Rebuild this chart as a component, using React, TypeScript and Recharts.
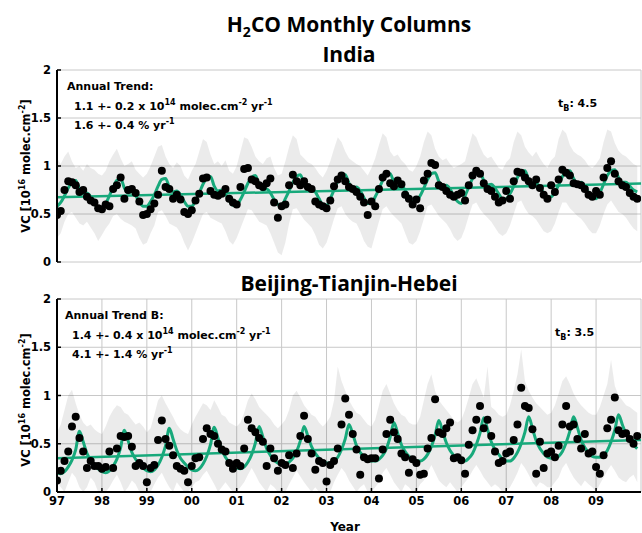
import { ComposedChart, Line, Area, XAxis, YAxis, CartesianGrid } from 'recharts'

const GREEN = '#17a97b'
const TEXT_FONT = '"DejaVu Sans", sans-serif'
const TITLE_FONT = '"Open Sans", sans-serif'

// years on the x axis and their short labels
const YEARS = [1997, 1998, 1999, 2000, 2001, 2002, 2003, 2004, 2005, 2006, 2007, 2008, 2009]
const YEAR_LABELS = ['97', '98', '99', '00', '01', '02', '03', '04', '05', '06', '07', '08', '09']
const Y_TICKS = [0, 0.5, 1, 1.5, 2]
const TREND_YEARS = [1997, 2010]

// India, monthly values Jan..Dec per row (1997..2009)
const INDIA_VC = [
  0.49, 0.53, 0.75, 0.84, 0.83, 0.80, 0.73, 0.75, 0.68, 0.64, 0.62, 0.56,
  0.55, 0.60, 0.58, 0.76, 0.80, 0.88, 0.66, 0.75, 0.76, 0.72, 0.63, 0.49,
  0.50, 0.55, 0.61, 0.70, 0.95, 0.78, 0.76, 0.66, 0.70, 0.65, 0.52, 0.50,
  0.54, 0.64, 0.71, 0.87, 0.88, 0.74, 0.70, 0.69, 0.71, 0.76, 0.66, 0.62,
  0.60, 0.78, 0.97, 0.98, 0.86, 0.84, 0.80, 0.78, 0.82, 0.87, 0.62, 0.46,
  0.58, 0.60, 0.80, 0.91, 0.84, 0.80, 0.84, 0.78, 0.76, 0.63, 0.60, 0.58,
  0.56, 0.64, 0.79, 0.86, 0.90, 0.84, 0.78, 0.76, 0.73, 0.68, 0.62, 0.49,
  0.63, 0.58, 0.76, 0.88, 0.92, 0.82, 0.79, 0.85, 0.81, 0.70, 0.66, 0.60,
  0.65, 0.56, 0.85, 0.92, 1.03, 1.01, 0.80, 0.78, 0.74, 0.70, 0.68, 0.70,
  0.72, 0.64, 0.80, 0.90, 0.95, 0.92, 0.82, 0.76, 0.74, 0.68, 0.62, 0.64,
  0.74, 0.66, 0.84, 0.94, 0.93, 0.88, 0.84, 0.80, 0.86, 0.77, 0.70, 0.66,
  0.80, 0.73, 0.86, 0.96, 0.93, 0.90, 0.82, 0.81, 0.80, 0.76, 0.70, 0.68,
  0.74, 0.70, 0.88, 0.98, 1.05, 0.92, 0.84, 0.80, 0.78, 0.72, 0.68, 0.66,
]
const INDIA_MIN = [
  0.25, 0.30, 0.42, 0.50, 0.52, 0.46, 0.40, 0.38, 0.42, 0.36, 0.30, 0.22,
  0.28, 0.35, 0.40, 0.48, 0.50, 0.45, 0.42, 0.40, 0.38, 0.35, 0.25, 0.18,
  0.20, 0.30, 0.38, 0.52, 0.54, 0.48, 0.40, 0.38, 0.36, 0.30, 0.20, 0.12,
  0.20, 0.30, 0.40, 0.50, 0.52, 0.46, 0.44, 0.42, 0.40, 0.32, 0.22, 0.18,
  0.25, 0.35, 0.45, 0.55, 0.54, 0.48, 0.42, 0.40, 0.38, 0.30, 0.20, 0.10,
  0.07, 0.20, 0.40, 0.55, 0.56, 0.50, 0.44, 0.40, 0.36, 0.28, 0.18, 0.14,
  0.20, 0.32, 0.45, 0.56, 0.58, 0.50, 0.45, 0.42, 0.40, 0.32, 0.22, 0.16,
  0.14, 0.28, 0.42, 0.55, 0.58, 0.52, 0.48, 0.44, 0.40, 0.30, 0.20, 0.18,
  0.22, 0.32, 0.45, 0.58, 0.60, 0.54, 0.48, 0.44, 0.40, 0.34, 0.26, 0.22,
  0.25, 0.35, 0.48, 0.60, 0.62, 0.55, 0.50, 0.46, 0.42, 0.36, 0.30, 0.27,
  0.30, 0.38, 0.50, 0.62, 0.64, 0.56, 0.50, 0.48, 0.44, 0.38, 0.32, 0.30,
  0.32, 0.40, 0.52, 0.62, 0.62, 0.56, 0.52, 0.48, 0.45, 0.40, 0.34, 0.30,
  0.30, 0.38, 0.50, 0.60, 0.64, 0.58, 0.52, 0.50, 0.46, 0.40, 0.35, 0.32,
]
const INDIA_MAX = [
  1.08, 1.02, 1.10, 1.15, 1.05, 0.98, 1.00, 0.95, 1.02, 0.98, 0.96, 0.92,
  0.90, 0.95, 1.05, 1.12, 1.18, 1.08, 1.00, 1.02, 1.05, 0.96, 0.92, 0.88,
  0.92, 1.00, 1.10, 1.20, 1.22, 1.10, 1.02, 0.98, 1.04, 1.00, 0.90, 0.86,
  0.95, 1.02, 1.15, 1.28, 1.25, 1.12, 1.02, 1.05, 1.00, 1.06, 0.95, 0.92,
  1.00, 1.15, 1.30, 1.28, 1.20, 1.10, 1.05, 1.02, 1.08, 1.10, 0.98, 0.90,
  0.92, 1.05, 1.20, 1.32, 1.28, 1.12, 1.08, 1.04, 1.02, 0.98, 0.92, 0.88,
  0.95, 1.05, 1.18, 1.30, 1.25, 1.15, 1.08, 1.05, 1.02, 1.00, 0.95, 0.90,
  0.98, 1.08, 1.22, 1.34, 1.30, 1.15, 1.10, 1.12, 1.06, 1.02, 0.96, 0.94,
  1.00, 1.10, 1.25, 1.36, 1.32, 1.18, 1.10, 1.06, 1.08, 1.02, 0.98, 1.00,
  1.02, 1.05, 1.20, 1.34, 1.30, 1.20, 1.12, 1.08, 1.10, 1.04, 0.98, 0.96,
  1.04, 1.08, 1.25, 1.36, 1.32, 1.20, 1.14, 1.10, 1.15, 1.08, 1.02, 0.98,
  1.06, 1.10, 1.28, 1.38, 1.34, 1.22, 1.15, 1.12, 1.10, 1.06, 1.00, 0.98,
  1.02, 1.08, 1.25, 1.38, 1.36, 1.24, 1.16, 1.12, 1.10, 1.06, 1.02, 1.00,
]
const INDIA_FIT = [
  0.58, 0.62, 0.69, 0.77, 0.83, 0.85, 0.76, 0.71, 0.72, 0.68, 0.61, 0.56,
  0.55, 0.61, 0.69, 0.78, 0.85, 0.87, 0.77, 0.72, 0.73, 0.69, 0.63, 0.58,
  0.58, 0.63, 0.70, 0.79, 0.86, 0.87, 0.78, 0.73, 0.74, 0.70, 0.63, 0.58,
  0.58, 0.64, 0.72, 0.81, 0.87, 0.89, 0.79, 0.74, 0.75, 0.71, 0.64, 0.59,
  0.59, 0.65, 0.73, 0.82, 0.88, 0.90, 0.80, 0.75, 0.76, 0.72, 0.65, 0.60,
  0.59, 0.66, 0.74, 0.83, 0.89, 0.91, 0.81, 0.76, 0.77, 0.73, 0.66, 0.60,
  0.59, 0.66, 0.75, 0.84, 0.89, 0.91, 0.82, 0.77, 0.78, 0.74, 0.67, 0.61,
  0.61, 0.68, 0.76, 0.85, 0.91, 0.92, 0.83, 0.78, 0.79, 0.75, 0.68, 0.63,
  0.63, 0.69, 0.77, 0.86, 0.92, 0.93, 0.84, 0.79, 0.80, 0.76, 0.69, 0.63,
  0.61, 0.69, 0.78, 0.87, 0.92, 0.93, 0.85, 0.80, 0.81, 0.77, 0.71, 0.66,
  0.66, 0.71, 0.79, 0.88, 0.94, 0.95, 0.86, 0.81, 0.82, 0.78, 0.72, 0.68,
  0.68, 0.73, 0.80, 0.89, 0.94, 0.95, 0.87, 0.82, 0.83, 0.79, 0.72, 0.67,
  0.66, 0.72, 0.81, 0.90, 0.95, 0.96, 0.88, 0.83, 0.83, 0.79, 0.75, 0.73,
]
const INDIA_TREND = [0.674, 0.817]

// Beijing-Tianjin-Hebei, monthly values Jan..Dec per row (1997..2009)
const BTH_VC = [
  0.12, 0.22, 0.32, 0.42, 0.68, 0.78, 0.56, 0.42, 0.25, 0.32, 0.27, 0.27,
  0.24, 0.26, 0.42, 0.25, 0.45, 0.58, 0.57, 0.58, 0.47, 0.27, 0.30, 0.27,
  0.10, 0.25, 0.28, 0.54, 0.74, 0.55, 0.48, 0.38, 0.27, 0.24, 0.22, 0.10,
  0.27, 0.35, 0.36, 0.55, 0.66, 0.60, 0.58, 0.50, 0.44, 0.42, 0.30, 0.24,
  0.30, 0.27, 0.45, 0.75, 0.66, 0.62, 0.56, 0.52, 0.27, 0.45, 0.35, 0.22,
  0.30, 0.28, 0.38, 0.25, 0.40, 0.58, 0.79, 0.55, 0.40, 0.23, 0.32, 0.30,
  0.11, 0.28, 0.32, 0.45, 0.70, 0.97, 0.80, 0.60, 0.44, 0.18, 0.36, 0.34,
  0.35, 0.35, 0.14, 0.44, 0.60, 0.75, 0.62, 0.55, 0.40, 0.36, 0.20, 0.34,
  0.30, 0.18, 0.19, 0.45, 0.56, 0.96, 0.62, 0.60, 0.66, 0.72, 0.35, 0.36,
  0.33, 0.19, 0.49, 0.64, 0.75, 0.89, 0.66, 0.75, 0.58, 0.42, 0.30, 0.32,
  0.40, 0.42, 0.54, 0.70, 1.08, 0.89, 0.87, 0.65, 0.19, 0.52, 0.25, 0.40,
  0.42, 0.36, 0.48, 0.70, 0.89, 0.68, 0.70, 0.55, 0.45, 0.60, 0.40, 0.42,
  0.26, 0.19, 0.38, 0.66, 0.75, 0.98, 0.64, 0.60, 0.61, 0.55, 0.50, 0.58,
]
const BTH_MIN = [
  0.10, 0.05, 0.00, 0.10, 0.20, 0.15, 0.05, 0.00, 0.05, 0.15, 0.10, 0.00,
  0.00, 0.00, 0.05, 0.12, 0.18, 0.10, 0.00, 0.05, 0.12, 0.08, 0.00, 0.00,
  0.00, 0.00, 0.08, 0.15, 0.20, 0.12, 0.05, 0.00, 0.10, 0.05, 0.00, 0.00,
  0.05, 0.10, 0.12, 0.18, 0.22, 0.15, 0.08, 0.00, 0.05, 0.10, 0.05, 0.00,
  0.00, 0.05, 0.10, 0.18, 0.25, 0.18, 0.10, 0.05, 0.00, 0.08, 0.05, 0.00,
  0.00, 0.00, 0.08, 0.15, 0.22, 0.16, 0.10, 0.05, 0.00, 0.05, 0.00, 0.00,
  0.05, 0.00, 0.10, 0.18, 0.25, 0.20, 0.12, 0.06, 0.00, 0.05, 0.08, 0.00,
  0.00, 0.05, 0.10, 0.20, 0.25, 0.18, 0.10, 0.05, 0.00, 0.08, 0.05, 0.00,
  0.00, 0.08, 0.12, 0.20, 0.28, 0.20, 0.12, 0.08, 0.05, 0.10, 0.05, 0.00,
  0.05, 0.10, 0.15, 0.22, 0.28, 0.22, 0.15, 0.10, 0.05, 0.08, 0.05, 0.00,
  0.00, 0.05, 0.12, 0.20, 0.30, 0.25, 0.18, 0.10, 0.05, 0.10, 0.08, 0.05,
  0.05, 0.10, 0.15, 0.25, 0.30, 0.22, 0.15, 0.10, 0.06, 0.12, 0.08, 0.05,
  0.00, 0.08, 0.15, 0.22, 0.28, 0.22, 0.15, 0.12, 0.10, 0.15, 0.18, 0.10,
]
const BTH_MAX = [
  0.62, 0.70, 0.85, 1.00, 1.06, 0.92, 0.80, 0.72, 0.68, 0.70, 0.65, 0.62,
  0.60, 0.68, 0.78, 0.85, 0.90, 0.88, 0.82, 0.80, 0.75, 0.70, 0.72, 0.68,
  0.62, 0.66, 0.80, 0.95, 1.00, 0.92, 0.85, 0.78, 0.70, 0.65, 0.62, 0.60,
  0.70, 0.78, 0.85, 0.92, 0.90, 0.85, 0.95, 0.88, 0.80, 0.78, 0.72, 0.70,
  0.68, 0.72, 0.82, 0.95, 1.02, 0.96, 0.88, 0.84, 0.80, 0.76, 0.70, 0.66,
  0.70, 0.75, 0.85, 1.00, 1.05, 0.98, 0.90, 0.85, 0.80, 0.78, 0.72, 0.68,
  0.72, 0.78, 0.95, 1.30, 1.15, 1.05, 0.95, 0.88, 0.82, 0.80, 0.75, 0.70,
  0.68, 0.75, 0.90, 1.05, 1.12, 1.02, 0.92, 0.85, 0.80, 0.78, 0.72, 0.70,
  0.70, 0.78, 0.95, 1.12, 1.22, 1.05, 0.95, 0.90, 0.85, 0.80, 0.75, 0.72,
  0.75, 0.85, 0.98, 1.12, 1.18, 1.08, 0.98, 1.30, 0.88, 0.85, 0.80, 0.78,
  0.80, 0.90, 1.05, 1.22, 1.48, 1.15, 1.05, 0.98, 0.92, 0.88, 0.84, 0.80,
  0.82, 0.90, 1.02, 1.15, 1.20, 1.12, 1.02, 0.95, 0.90, 0.86, 0.82, 0.80,
  0.80, 0.88, 1.00, 1.12, 1.37, 1.10, 1.00, 0.95, 0.90, 0.88, 0.85, 0.82,
]
const BTH_FIT = [
  0.20, 0.19, 0.21, 0.26, 0.33, 0.44, 0.63, 0.52, 0.40, 0.33, 0.28, 0.24,
  0.21, 0.20, 0.22, 0.27, 0.34, 0.46, 0.64, 0.53, 0.41, 0.34, 0.29, 0.25,
  0.22, 0.21, 0.23, 0.28, 0.36, 0.48, 0.66, 0.55, 0.43, 0.35, 0.30, 0.26,
  0.23, 0.22, 0.24, 0.29, 0.37, 0.49, 0.67, 0.56, 0.44, 0.36, 0.31, 0.27,
  0.25, 0.24, 0.26, 0.31, 0.39, 0.51, 0.68, 0.57, 0.45, 0.38, 0.33, 0.30,
  0.29, 0.29, 0.31, 0.35, 0.42, 0.53, 0.68, 0.58, 0.47, 0.40, 0.35, 0.31,
  0.30, 0.30, 0.32, 0.36, 0.44, 0.55, 0.70, 0.60, 0.48, 0.41, 0.36, 0.33,
  0.32, 0.32, 0.34, 0.38, 0.45, 0.57, 0.72, 0.61, 0.49, 0.42, 0.37, 0.34,
  0.32, 0.32, 0.34, 0.39, 0.47, 0.59, 0.74, 0.63, 0.51, 0.43, 0.38, 0.34,
  0.32, 0.32, 0.35, 0.40, 0.49, 0.61, 0.77, 0.65, 0.52, 0.44, 0.39, 0.34,
  0.32, 0.32, 0.35, 0.41, 0.50, 0.62, 0.78, 0.66, 0.53, 0.45, 0.40, 0.36,
  0.35, 0.35, 0.37, 0.42, 0.51, 0.63, 0.78, 0.67, 0.54, 0.46, 0.41, 0.37,
  0.36, 0.36, 0.38, 0.43, 0.52, 0.64, 0.80, 0.70, 0.60, 0.54, 0.49, 0.45,
]
const BTH_TREND = [0.35, 0.54]

function buildRows(vc: number[], lo: number[], hi: number[], fit: number[]) {
  return vc.map((v, i) => ({
    t: YEARS[0] + i / 12,
    vc: v,
    band: [lo[i], hi[i]],
    fit: fit[i],
  }))
}

const tickStyle = { fontSize: 11.5, fontWeight: 700, fill: '#000', fontFamily: TEXT_FONT }

interface PanelProps {
  rows: { t: number; vc: number; band: number[]; fit: number }[]
  trend: number[]
  height: number
  top: number
  bottom: number
  showYears: boolean
}

function Panel({ rows, trend, height, top, bottom, showYears }: PanelProps) {
  const trendRows = TREND_YEARS.map((t, i) => ({ t, trend: trend[i] }))
  return (
    <div style={{ position: 'absolute', left: 0, top: 0 }}>
      <ComposedChart width={642} height={height} data={rows} margin={{ top, right: 1, bottom, left: 0 }}>
        <CartesianGrid xAxisId="b" yAxisId="l" stroke="#c8c8c8" strokeWidth={1} />
        <XAxis
          xAxisId="b"
          dataKey="t"
          type="number"
          domain={[1997, 2010]}
          ticks={YEARS}
          allowDataOverflow
          height={showYears ? 30 : 0}
          tick={showYears ? tickStyle : false}
          tickFormatter={(v) => YEAR_LABELS[YEARS.indexOf(v)] ?? ''}
          tickSize={-4}
          tickMargin={9}
          axisLine={{ stroke: '#000', strokeWidth: 2 }}
          tickLine={{ stroke: '#000', strokeWidth: 1.5 }}
          interval={0}
        />
        <XAxis
          xAxisId="t"
          dataKey="t"
          type="number"
          orientation="top"
          domain={[1997, 2010]}
          ticks={YEARS}
          allowDataOverflow
          height={0}
          tick={false}
          tickSize={-4}
          axisLine={{ stroke: '#000', strokeWidth: 2 }}
          tickLine={{ stroke: '#000', strokeWidth: 1.5 }}
          interval={0}
        />
        <YAxis
          yAxisId="l"
          domain={[0, 2]}
          ticks={Y_TICKS}
          width={57}
          tick={tickStyle}
          tickSize={-4}
          tickMargin={10}
          axisLine={{ stroke: '#000', strokeWidth: 2 }}
          tickLine={{ stroke: '#000', strokeWidth: 1.5 }}
          interval={0}
        />
        <YAxis
          yAxisId="r"
          orientation="right"
          domain={[0, 2]}
          ticks={Y_TICKS}
          width={0}
          tick={false}
          tickSize={-4}
          axisLine={{ stroke: '#000', strokeWidth: 2 }}
          tickLine={{ stroke: '#000', strokeWidth: 1.5 }}
          interval={0}
        />
        <Area
          xAxisId="b"
          yAxisId="l"
          dataKey="band"
          type="linear"
          stroke="none"
          fill="#000"
          fillOpacity={0.08}
          isAnimationActive={false}
          activeDot={false}
        />
        <Line
          xAxisId="b"
          yAxisId="l"
          dataKey="vc"
          stroke="none"
          strokeWidth={0}
          dot={{ r: 4, fill: '#000', stroke: 'none' }}
          activeDot={false}
          isAnimationActive={false}
        />
        <Line
          xAxisId="b"
          yAxisId="l"
          dataKey="fit"
          type="monotone"
          stroke={GREEN}
          strokeWidth={3}
          dot={false}
          activeDot={false}
          isAnimationActive={false}
        />
        <Line
          xAxisId="b"
          yAxisId="l"
          data={trendRows}
          dataKey="trend"
          type="linear"
          stroke={GREEN}
          strokeWidth={2.5}
          dot={false}
          activeDot={false}
          isAnimationActive={false}
        />
      </ComposedChart>
    </div>
  )
}

const sup = { fontSize: 8 }

function TrendText({ x, y, title, abs, pct }: { x: number; y: number; title: string; abs: string; pct: string }) {
  return (
    <g fontFamily={TEXT_FONT} fontWeight={700} fontSize={11} fill="#000">
      <text x={x} y={y}>{title}</text>
      <text x={x + 7} y={y + 20.5}>
        {abs} x 10<tspan dy={-5} style={sup}>14</tspan>
        <tspan dy={5}> molec.cm</tspan>
        <tspan dy={-5} style={sup}>-2</tspan>
        <tspan dy={5}> yr</tspan>
        <tspan dy={-5} style={sup}>-1</tspan>
      </text>
      <text x={x + 7} y={y + 39}>
        {pct} % yr<tspan dy={-5} style={sup}>-1</tspan>
      </text>
    </g>
  )
}

function TB({ x, y, value }: { x: number; y: number; value: string }) {
  return (
    <text x={x} y={y} fontFamily={TEXT_FONT} fontWeight={700} fontSize={11} fill="#000">
      t<tspan dy={4} style={sup}>B</tspan>
      <tspan dy={-4}>: {value}</tspan>
    </text>
  )
}

function YLabel({ cy }: { cy: number }) {
  return (
    <text
      transform={`translate(30,${cy}) rotate(-90)`}
      textAnchor="middle"
      fontFamily={TEXT_FONT}
      fontWeight={700}
      fontSize={11.5}
      fill="#000"
    >
      VC [10<tspan dy={-5} style={sup}>16</tspan>
      <tspan dy={5}> molec.cm</tspan>
      <tspan dy={-5} style={sup}>-2</tspan>
      <tspan dy={5}>]</tspan>
    </text>
  )
}

export default function App() {
  const indiaRows = buildRows(INDIA_VC, INDIA_MIN, INDIA_MAX, INDIA_FIT)
  const bthRows = buildRows(BTH_VC, BTH_MIN, BTH_MAX, BTH_FIT)
  return (
    <div style={{ position: 'absolute', left: 0, top: 0, width: 642, height: 533, overflow: 'hidden', background: '#fff' }}>
      <Panel rows={indiaRows} trend={INDIA_TREND} height={270} top={70} bottom={8} showYears={false} />
      <Panel rows={bthRows} trend={BTH_TREND} height={533} top={299} bottom={11} showYears />
      <svg width={642} height={533} style={{ position: 'absolute', left: 0, top: 0, pointerEvents: 'none' }}>
        <g fontFamily={TITLE_FONT} fontWeight={700} fontSize={21} fill="#000" textAnchor="middle">
          <text x={349} y={32}>
            H<tspan dy={5} style={{ fontSize: 14 }}>2</tspan>
            <tspan dy={-5}>CO Monthly Columns</tspan>
          </text>
          <text x={349} y={62}>India</text>
          <text x={349} y={290.5}>Beijing-Tianjin-Hebei</text>
        </g>
        <TrendText x={67} y={89.5} title="Annual Trend:" abs="1.1 +- 0.2" pct="1.6 +- 0.4" />
        <TB x={558} y={107} value="4.5" />
        <TrendText x={65} y={318.5} title="Annual Trend B:" abs="1.4 +- 0.4" pct="4.1 +- 1.4" />
        <TB x={555} y={336} value="3.5" />
        <YLabel cy={166} />
        <YLabel cy={400} />
        <text x={345} y={531} textAnchor="middle" fontFamily={TEXT_FONT} fontWeight={700} fontSize={12} fill="#000">
          Year
        </text>
      </svg>
    </div>
  )
}
